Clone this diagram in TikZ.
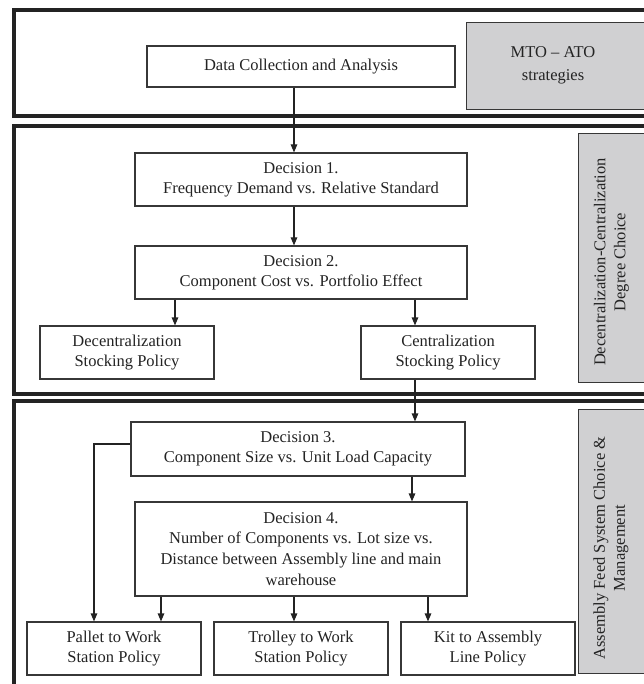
\documentclass[tikz,border=0pt]{standalone}
\usepackage{fontspec}
\setmainfont{Liberation Serif}
\usetikzlibrary{arrows.meta}
\definecolor{ink}{RGB}{35,35,35}
\definecolor{edge}{RGB}{55,55,55}
\definecolor{sidegray}{RGB}{208,208,210}
\begin{document}
\begin{tikzpicture}[x=1pt,y=-1pt,
  frame/.style={draw=ink, line width=4pt},
  txt/.style={font=\fontsize{16.5}{20}\selectfont, text=ink, align=center},
  stepbox/.style={txt, draw=edge, line width=1.1pt, fill=white, inner sep=0pt},
  side/.style={draw=edge, line width=0.9pt, fill=sidegray},
  sidetext/.style={txt, rotate=90},
  arr/.style={draw=ink, line width=1.1pt, -{Triangle[length=8pt,width=6.5pt]}},
]
\useasboundingbox (0,0) rectangle (643,684);

% three stage frames (right and lower sides run off the page)
\draw[frame] (14,10.5) rectangle (660,116);
\draw[frame] (14,126) rectangle (660,393.5);
\draw[frame] (14,401) rectangle (660,700);

% grey stage labels on the right
\draw[side] (466,22) rectangle (660,109);
\node[txt, font=\fontsize{16.5}{23}\selectfont] (mto) at (553,65) {MTO – ATO\\strategies};
\draw[side] (578,133) rectangle (660,382);
\node[sidetext] (degree) at (611.5,262) {Decentralization-Centralization\\Degree Choice};
\draw[side] (578,409) rectangle (660,673);
\node[sidetext] (feed) at (611,548) {Assembly Feed System Choice \&\\Management};

% process boxes
\node[stepbox, minimum width=308pt, minimum height=41pt] (dc) at (301,66.5) {Data Collection and Analysis};
\node[stepbox, minimum width=332pt, minimum height=53pt] (d1) at (301,179.5) {Decision 1.\\Frequency Demand vs. Relative Standard};
\node[stepbox, minimum width=332pt, minimum height=53pt] (d2) at (301,272.5) {Decision 2.\\Component Cost vs. Portfolio Effect};
\node[stepbox, minimum width=174pt, minimum height=53pt] (dec) at (127,352.5) {Decentralization\\Stocking Policy};
\node[stepbox, minimum width=174pt, minimum height=53pt] (cen) at (448,352.5) {Centralization\\Stocking Policy};
\node[stepbox, minimum width=334pt, minimum height=54pt] (d3) at (298,449) {Decision 3.\\Component Size vs. Unit Load Capacity};
\node[stepbox, minimum width=332pt, minimum height=94pt, font=\fontsize{16.5}{20.8}\selectfont] (d4) at (301,549) {Decision 4.\\Number of Components vs. Lot size vs.\\Distance between Assembly line and main\\warehouse};
\node[stepbox, minimum width=174pt, minimum height=53pt] (pal) at (114,648.5) {Pallet to Work\\Station Policy};
\node[stepbox, minimum width=174pt, minimum height=53pt] (tro) at (301,648.5) {Trolley to Work\\Station Policy};
\node[stepbox, minimum width=174pt, minimum height=53pt] (kit) at (488,648.5) {Kit to Assembly\\Line Policy};

% connectors
\draw[arr] ([xshift=-7pt]dc.south) -- ([xshift=-7pt]d1.north);
\draw[arr] ([xshift=-7pt]d1.south) -- ([xshift=-7pt]d2.north);
\draw[arr] ([xshift=48pt]dec.north |- d2.south) -- ([xshift=48pt]dec.north);
\draw[arr] ([xshift=-33pt]cen.north |- d2.south) -- ([xshift=-33pt]cen.north);
\draw[arr] ([xshift=-33pt]cen.south) -- ([xshift=-33pt]cen.south |- d3.north);
\draw[arr] ([xshift=111pt]d4.north |- d3.south) -- ([xshift=111pt]d4.north);
\draw[arr] ([yshift=5pt]d3.west) -| ([xshift=-20pt]pal.north);
\draw[arr] ([xshift=47pt]pal.north |- d4.south) -- ([xshift=47pt]pal.north);
\draw[arr] ([xshift=-7pt]tro.north |- d4.south) -- ([xshift=-7pt]tro.north);
\draw[arr] ([xshift=-60pt]kit.north |- d4.south) -- ([xshift=-60pt]kit.north);
\end{tikzpicture}
\end{document}
